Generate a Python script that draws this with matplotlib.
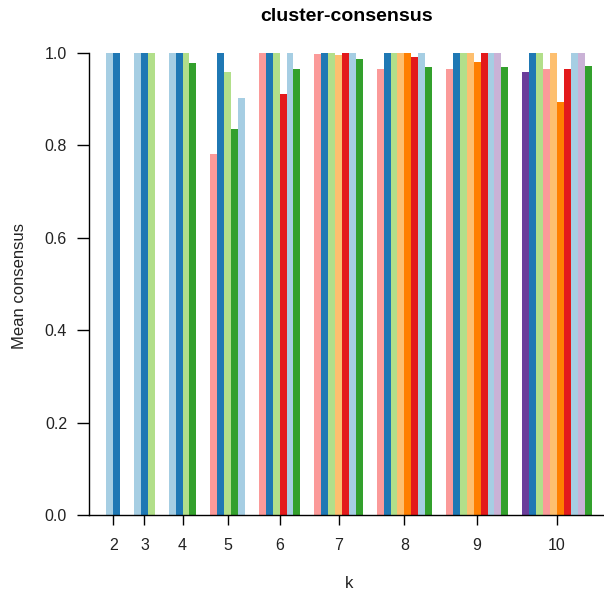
import matplotlib
matplotlib.use("Agg")
import matplotlib.pyplot as plt

plt.rcParams["font.family"] = ["Liberation Sans", "DejaVu Sans"]

# RColorBrewer "Paired" colours used for the clusters
LB, DB, LG, GR = "#A6CEE3", "#1F78B4", "#B2DF8A", "#33A02C"
PK, RD, LO, OR = "#FB9A99", "#E31A1C", "#FDBF6F", "#FF7F00"
LV, PU = "#CAB2D6", "#6A3D9A"

ks = [2, 3, 4, 5, 6, 7, 8, 9, 10]
consensus = [
    [1.0, 1.0],
    [1.0, 1.0, 1.0],
    [1.0, 1.0, 1.0, 0.977],
    [0.780, 1.0, 0.959, 0.834, 0.901],
    [1.0, 1.0, 1.0, 0.910, 1.0, 0.964],
    [0.997, 1.0, 1.0, 0.994, 1.0, 1.0, 0.986],
    [0.964, 1.0, 1.0, 1.0, 1.0, 0.991, 1.0, 0.968],
    [0.964, 1.0, 1.0, 1.0, 0.979, 1.0, 1.0, 1.0, 0.968],
    [0.959, 1.0, 1.0, 0.964, 1.0, 0.893, 0.964, 1.0, 1.0, 0.971],
]
colors = [
    [LB, DB],
    [LB, DB, LG],
    [LB, DB, LG, GR],
    [PK, DB, LG, GR, LB],
    [PK, DB, LG, RD, LB, GR],
    [PK, DB, LG, LO, RD, LB, GR],
    [PK, DB, LG, LO, OR, RD, LB, GR],
    [PK, DB, LG, LO, OR, RD, LB, LV, GR],
    [PU, DB, LG, PK, LO, OR, RD, LB, LV, GR],
]

fig = plt.figure(figsize=(6.04, 5.98), dpi=100)
W, H = 604, 598
# axes: left at y-axis line, bottom at y=0, top so that 1.04 fits
ax = fig.add_axes([88.7 / W, (H - 515) / H, (604 - 88.7) / W, (515 - 34.2) / H])

gap = 2
pos = 0
centers = []
for vals, cols in zip(consensus, colors):
    xs = [pos + i + 0.5 for i in range(len(vals))]
    ax.bar(xs, vals, width=1.0, color=cols, linewidth=0)
    centers.append(sum(xs) / len(xs))
    pos += len(vals) + gap

ax.set_xlim(-2.54, 71.8)
ax.set_ylim(0, 1.04)

for s in ["top", "right"]:
    ax.spines[s].set_visible(False)
ax.spines["left"].set_bounds(0, 1)
for s in ["left", "bottom"]:
    ax.spines[s].set_linewidth(1.0)
    ax.spines[s].set_color("black")

ax.set_xticks(centers)
ax.set_xticklabels([str(k) for k in ks])
ax.set_yticks([0, 0.2, 0.4, 0.6, 0.8, 1.0])
ax.set_yticklabels(["0.0", "0.2", "0.4", "0.6", "0.8", "1.0"])
ax.tick_params(axis="x", length=7.2, width=1.0, pad=9, labelsize=11.5, colors="black", labelcolor="#222222")
ax.tick_params(axis="y", length=8.6, width=1.0, pad=7, labelsize=11.5, colors="black", labelcolor="#222222")

fig.text(347 / W, 1 - 21 / H, "cluster-consensus", ha="center", va="baseline",
         fontsize=14, fontweight="bold")
fig.text(20 / W, 1 - 286 / H, "Mean consensus", ha="center", va="center",
         rotation=90, fontsize=12, color="#222222")
fig.text(349 / W, 1 - 583 / H, "k", ha="center", va="center", fontsize=12, color="#222222")

fig.savefig("out.png", dpi=100)
